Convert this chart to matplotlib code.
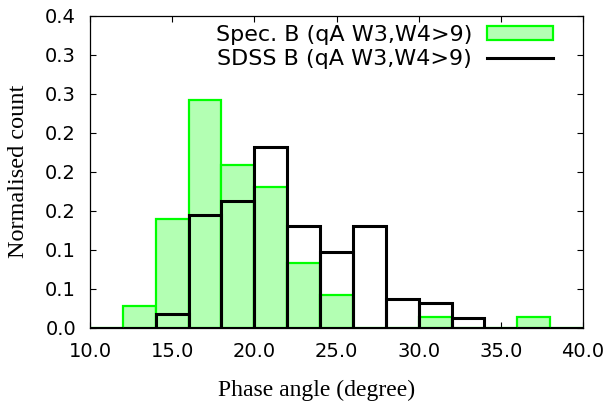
import numpy as np
import matplotlib
matplotlib.use("Agg")
import matplotlib.pyplot as plt
from matplotlib.patches import Patch
from matplotlib.lines import Line2D
from matplotlib.ticker import FixedLocator, FixedFormatter, FormatStrFormatter

# bin left edges (degree), bin width 2
bin_left = [10, 12, 14, 16, 18, 20, 22, 24, 26, 28, 30, 32, 34, 36, 38]
spec_b = [0.0, 0.028, 0.139, 0.292, 0.208, 0.181, 0.083, 0.042,
          0.0, 0.0, 0.014, 0.0, 0.0, 0.014, 0.0]
sdss_b = [0.0, 0.0, 0.018, 0.144, 0.162, 0.232, 0.130, 0.097,
          0.130, 0.037, 0.032, 0.013, 0.0, 0.0, 0.0]
ytick_vals = [0.0, 0.05, 0.1, 0.15, 0.2, 0.25, 0.3, 0.35, 0.4]
ytick_labels = ['0.0', '0.1', '0.1', '0.2', '0.2', '0.2', '0.3', '0.3', '0.4']
xtick_vals = [10, 15, 20, 25, 30, 35, 40]

sans = 'DejaVu Sans'
serif = 'Liberation Serif'

fig = plt.figure(figsize=(6.11, 4.08), dpi=100)
ax = fig.add_axes([90 / 611, 1 - 327.7 / 408, 493 / 611, 312 / 408])

ax.bar(bin_left, spec_b, width=2, align='edge', facecolor='#b3ffb3',
       edgecolor='#00ff00', linewidth=1.6, zorder=2)
ax.bar(bin_left, sdss_b, width=2, align='edge', facecolor='none',
       edgecolor='black', linewidth=2.2, zorder=3)

ax.set_xlim(10, 40)
ax.set_ylim(0, 0.4)
ax.xaxis.set_major_locator(FixedLocator(xtick_vals))
ax.xaxis.set_major_formatter(FormatStrFormatter('%.1f'))
ax.yaxis.set_major_locator(FixedLocator(ytick_vals))
ax.yaxis.set_major_formatter(FixedFormatter(ytick_labels))
ax.tick_params(direction='in', length=4, width=0.8, top=True, right=True,
               labelsize=14, pad=10)
for lab in ax.get_xticklabels() + ax.get_yticklabels():
    lab.set_fontfamily(sans)
for s in ax.spines.values():
    s.set_linewidth(0.9)

ax.set_xlabel('Phase angle (degree)', fontfamily=serif, fontsize=17, va='center')
ax.xaxis.set_label_coords(0.46, -0.2)
ax.set_ylabel('Normalised count', fontfamily=serif, fontsize=17.5, va='center')
ax.yaxis.set_label_coords(-0.146, 0.5)

handles = [Patch(facecolor='#b3ffb3', edgecolor='#00ff00', linewidth=1.6),
           Line2D([], [], color='black', linewidth=2.2)]
labels = ['Spec. B (qA W3,W4>9)', 'SDSS B (qA W3,W4>9)']
ax.legend(handles, labels, loc='upper right', frameon=False, markerfirst=False,
          bbox_to_anchor=(553 / 611, (408 - 25) / 408), bbox_transform=fig.transFigure,
          borderpad=0, borderaxespad=0, handlelength=2.97, handleheight=0.6,
          handletextpad=0.68, labelspacing=0.18, prop={'family': sans, 'size': 16})

fig.savefig('out.png', dpi=100)
